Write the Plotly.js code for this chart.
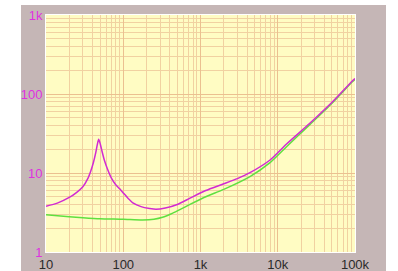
<!DOCTYPE html>
<html>
<head>
<meta charset="utf-8">
<script src="https://cdn.plot.ly/plotly-3.0.1.min.js"></script>
<style>
html, body { margin: 0; padding: 0; background: #ffffff; width: 398px; height: 271px; overflow: hidden; }
#chart { position: absolute; left: 21px; top: 5px; width: 365px; height: 266px; }
</style>
</head>
<body>
<div id="chart"></div>
<script>
// Frequencies (Hz) and impedance values
const freqMagenta = [10, 14, 20, 25, 30, 35, 38, 41, 44, 46, 48, 50, 53, 57, 63, 70, 80, 90, 100, 115, 135, 170, 220, 265, 350, 500, 731, 1170, 2000, 3000, 4370, 7950, 13000, 26000, 50000, 93000, 100000];
const valMagenta  = [3.8, 4.15, 4.9, 5.7, 6.7, 8.6, 10.6, 13.5, 18, 22.5, 26.7, 24, 19, 14.5, 11, 8.7, 7.1, 6.3, 5.6, 4.8, 4.15, 3.75, 3.55, 3.47, 3.6, 4.0, 4.8, 6.0, 7.3, 8.5, 10.1, 14.6, 23.3, 42.6, 78, 147, 157];
const freqGreen = [10, 20, 30, 50, 100, 178, 250, 323, 420, 532, 731, 1170, 2000, 4370, 7950, 13000, 26000, 50000, 93000, 100000];
const valGreen  = [2.97, 2.8, 2.72, 2.64, 2.6, 2.54, 2.6, 2.75, 3.05, 3.42, 4.0, 5.0, 6.2, 9.0, 13.5, 21.5, 41, 76, 144, 153];
const xTickVals = [10, 100, 1000, 10000, 100000];
const xTickText = ['10', '100', '1k', '10k', '100k'];
const yTickVals = [1, 10, 100, 1000];
const yTickText = ['1', '10', '100', '1k'];

const traces = [
  { x: freqGreen, y: valGreen, type: 'scatter', mode: 'lines',
    line: { color: '#5fe040', width: 1.5, shape: 'spline', smoothing: 0.6 }, hoverinfo: 'skip' },
  { x: freqMagenta, y: valMagenta, type: 'scatter', mode: 'lines',
    line: { color: '#d22ad2', width: 1.5, shape: 'spline', smoothing: 0.6 }, hoverinfo: 'skip' }
];

const gridMajor = '#ebc090';
const gridMinor = '#f1d1a1';

const layout = {
  width: 365, height: 266,
  margin: { l: 25, r: 31, t: 10, b: 19, pad: 0 },
  paper_bgcolor: '#c5b6b6',
  plot_bgcolor: '#fffcc3',
  showlegend: false,
  font: { family: 'Liberation Sans, Arial, sans-serif', size: 13 },
  xaxis: {
    type: 'log', range: [1, 5],
    tickmode: 'array', tickvals: xTickVals, ticktext: xTickText,
    tickfont: { color: '#2a2a2a', size: 13 },
    showgrid: true, gridcolor: gridMajor, gridwidth: 1,
    minor: { dtick: 'D1', showgrid: true, gridcolor: gridMinor, gridwidth: 1, ticks: '' },
    showline: true, linecolor: '#ffffff', linewidth: 1, mirror: true,
    zeroline: false, ticks: '', fixedrange: true
  },
  yaxis: {
    type: 'log', range: [0, 3],
    tickmode: 'array', tickvals: yTickVals, ticktext: yTickText,
    tickfont: { color: '#e030e0', size: 13 },
    showgrid: true, gridcolor: gridMajor, gridwidth: 1,
    minor: { dtick: 'D1', showgrid: true, gridcolor: gridMinor, gridwidth: 1, ticks: '' },
    showline: true, linecolor: '#ffffff', linewidth: 1, mirror: true,
    zeroline: false, ticks: '', fixedrange: true
  }
};

Plotly.newPlot('chart', traces, layout, { displayModeBar: false, staticPlot: true });
</script>
</body>
</html>
